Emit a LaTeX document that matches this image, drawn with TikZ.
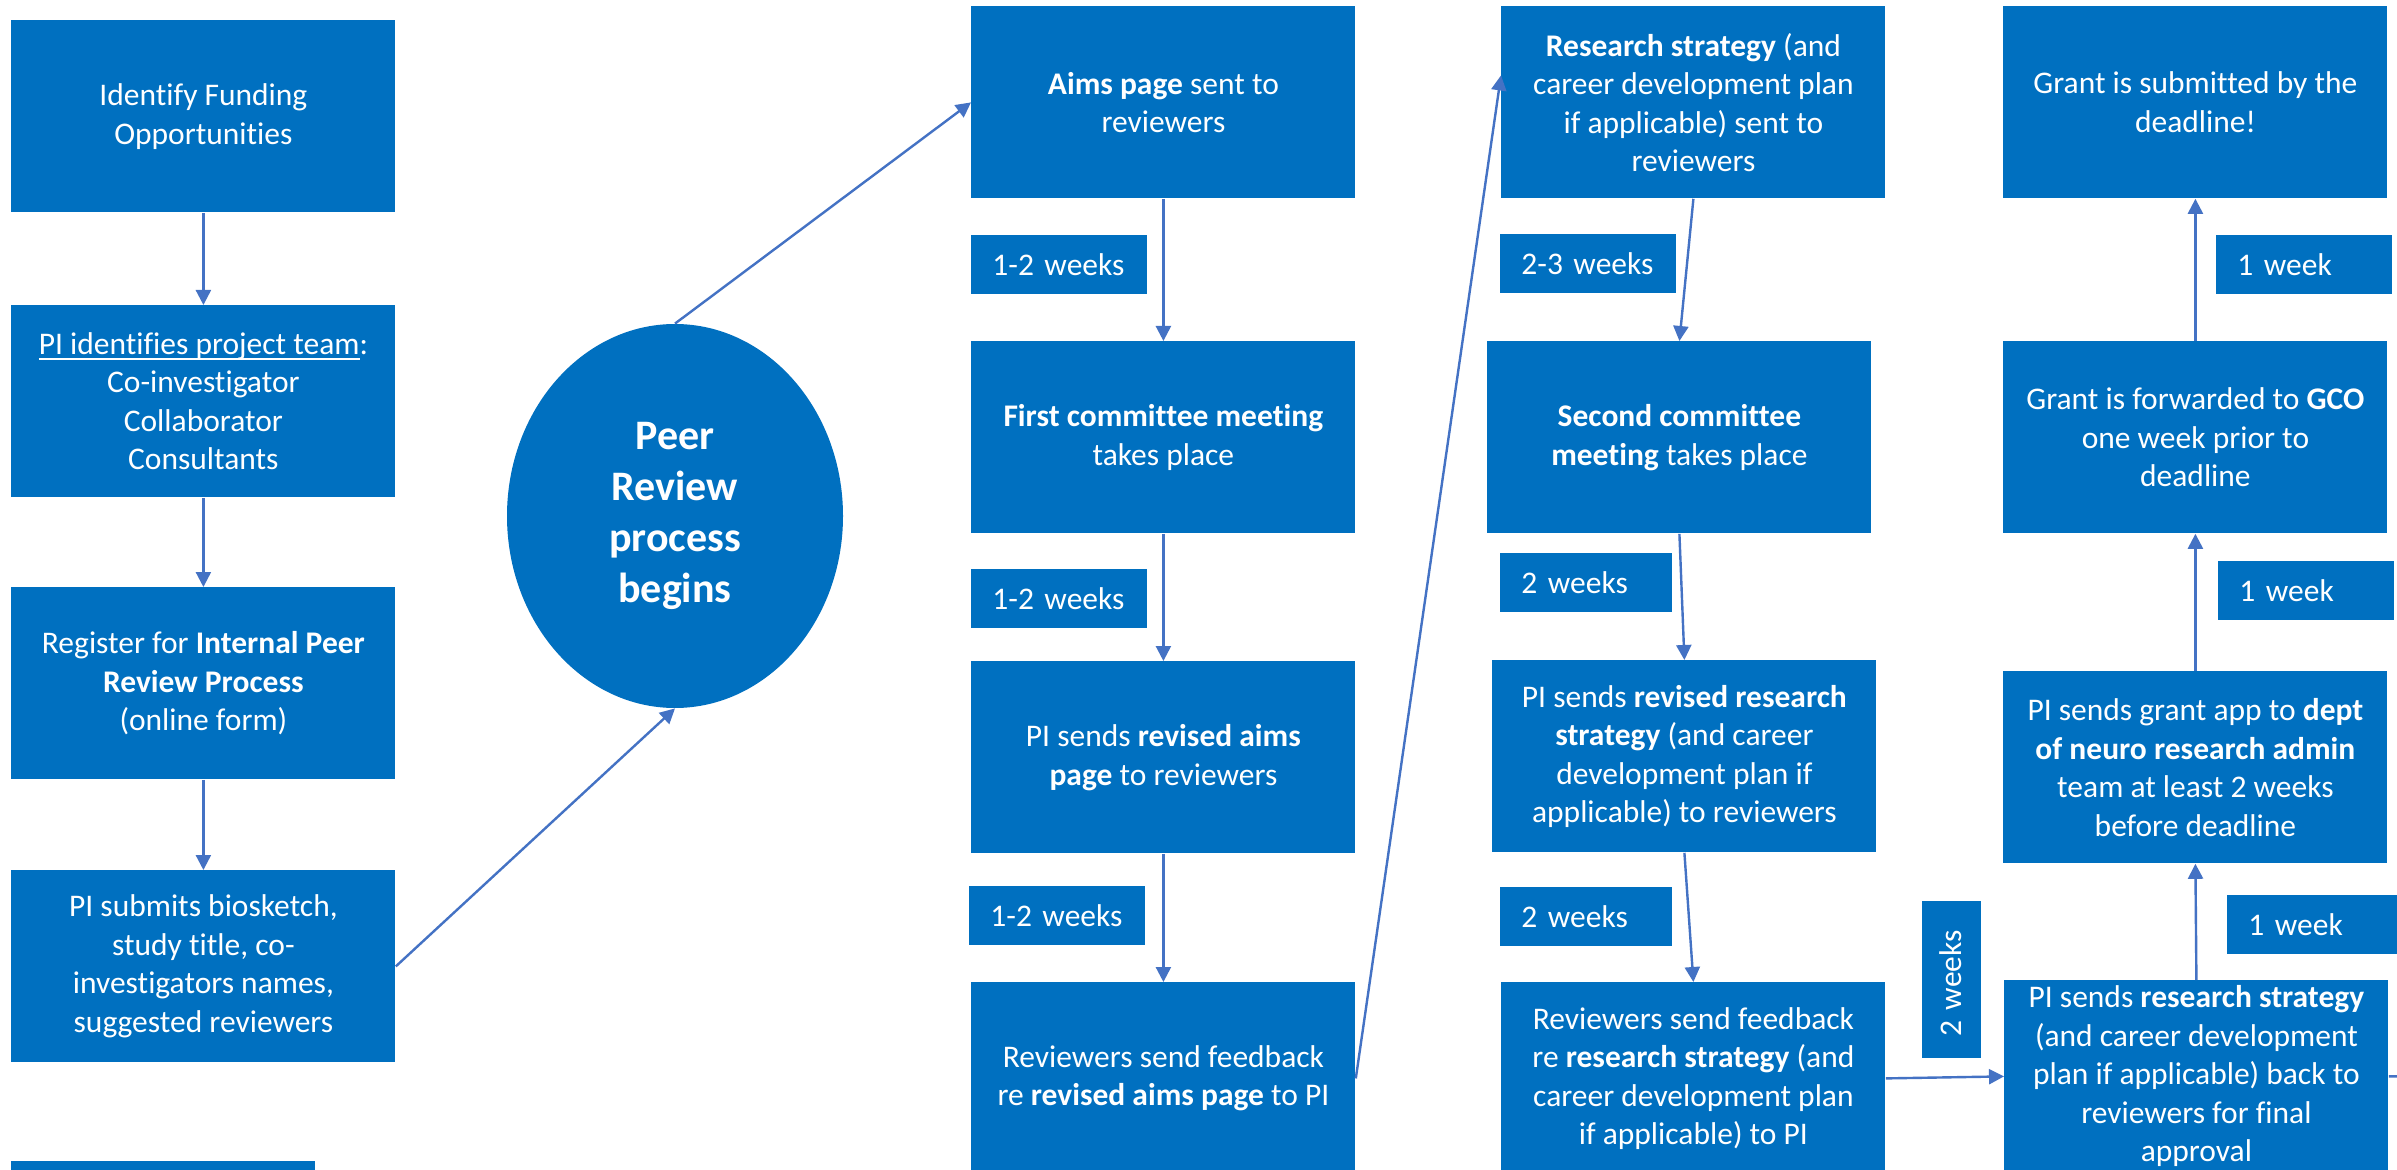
\documentclass[tikz,border=0pt]{standalone}
\usepackage{fontspec}
\setmainfont{Carlito}[Ligatures={NoCommon}]
\usetikzlibrary{arrows.meta,calc,shapes.geometric}
\definecolor{boxblue}{HTML}{0070C0}
\definecolor{arrblue}{HTML}{4472C4}
\newlength\myulw
\newcommand\myul[1]{\settowidth{\myulw}{#1}\rlap{#1}\rule[-2.6pt]{\myulw}{0.7pt}}
\begin{document}
\begin{tikzpicture}[x=0.5pt,y=-0.5pt,
  box/.style={fill=boxblue, text=white, align=center, inner sep=0pt, anchor=north west,
    minimum width=192pt, minimum height=96pt, font=\fontsize{15.75}{19.25}\selectfont},
  lbl/.style={fill=boxblue, text=white, align=left, inner xsep=10.5pt, inner ysep=0pt,
    anchor=north west, minimum height=29.5pt, text width=#1, font=\fontsize{15.75}{19.25}\selectfont},
  lbl/.default=67pt,
  conn/.style={draw=arrblue, line width=1.2pt},
  arr/.style={conn, -{Triangle[width=7.5pt,length=7.5pt]}},
  ]
\useasboundingbox (0,0) rectangle (2397,1170);
\clip (0,0) rectangle (2397,1170);
\fill[white] (0,0) rectangle (2397,1170);

% column 1
\node[box] (A) at (11,20) {Identify Funding\\Opportunities};
\node[box] (B) at (11,305) {\myul{PI identifies project team}:\\Co-investigator\\Collaborator\\Consultants};
\node[box] (C) at (11,587) {Register for \textbf{Internal Peer}\\\textbf{Review Process}\\(online form)};
\node[box] (D) at (11,870) {PI submits biosketch,\\study title, co-\\investigators names,\\suggested reviewers};
\node[box, minimum width=152pt] (E) at (11,1161) {};

% ellipse
\node[ellipse, fill=boxblue, minimum width=168pt, minimum height=192pt, inner sep=0pt,
  text=white, align=center, font=\bfseries\fontsize{21}{25.5}\selectfont] (P) at (675,516)
  {Peer\\Review\\process\\begins};

% column 2
\node[box] (aims) at (971,6) {\textbf{Aims page} sent to\\reviewers};
\node[lbl] (w1) at (971,235) {1-2 weeks};
\node[box] (first) at (971,341) {\textbf{First committee meeting}\\takes place};
\node[lbl] (w2) at (971,569) {1-2 weeks};
\node[box] (revaims) at (971,661) {PI sends \textbf{revised aims}\\\textbf{page} to reviewers};
\node[lbl] (w3) at (969,886) {1-2 weeks};
\node[box] (fb1) at (971,982) {Reviewers send feedback\\re \textbf{revised aims page} to PI};

% column 3
\node[box] (rs) at (1501,6) {\textbf{Research strategy} (and\\career development plan\\if applicable) sent to\\reviewers};
\node[lbl] (w4) at (1500,234) {2-3 weeks};
\node[box] (second) at (1487,341) {\textbf{Second committee}\\\textbf{meeting} takes place};
\node[lbl=65pt] (w5) at (1500,553) {2 weeks};
\node[box] (revrs) at (1492,660) {PI sends \textbf{revised research}\\\textbf{strategy} (and career\\development plan if\\applicable) to reviewers};
\node[lbl=65pt] (w6) at (1500,887) {2 weeks};
\node[box] (fb2) at (1501,982) {Reviewers send feedback\\re \textbf{research strategy} (and\\career development plan\\if applicable) to PI};

% column 4
\node[box] (sub) at (2003,6) {Grant is submitted by the\\deadline!};
\node[lbl] (w7) at (2216,235) {1 week};
\node[box] (fwd) at (2003,341) {Grant is forwarded to \textbf{GCO}\\one week prior to\\deadline};
\node[lbl] (w8) at (2218,561) {1 week};
\node[box] (app) at (2003,671) {PI sends grant app to \textbf{dept}\\\textbf{of neuro research admin}\\team at least 2 weeks\\before deadline};
\node[lbl] (w9) at (2227,895) {1 week};
\node[box] (final) at (2004,980) {PI sends \textbf{research strategy}\\(and career development\\plan if applicable) back to\\reviewers for final\\approval};
\node[lbl=57.5pt, rotate=90, anchor=south west] (w10) at (1981,1058) {2 weeks};

% connectors
\draw[arr] (A) -- (B);
\draw[arr] (B) -- (C);
\draw[arr] (C) -- (D);
\draw[arr] (D.east) -- (P.south);
\draw[arr] (P.north) -- (aims.west);
\draw[arr] (aims) -- (first);
\draw[arr] (first) -- (revaims);
\draw[arr] (revaims) -- (fb1);
\draw[arr] (fb1.east) -- ($(rs.north west)!0.36!(rs.south west)$);
\draw[arr] (rs.south) -- (second.north);
\draw[arr] (second.south) -- (revrs.north);
\draw[arr] (revrs.south) -- (fb2.north);
\draw[arr] (fb2.east) -- (final.west);
\draw[arr] (final.north) -- (app.south);
\draw[arr] (app.north) -- (fwd.south);
\draw[arr] (fwd.north) -- (sub.south);
\coordinate (exitR) at (2420,1076);
\draw[conn] (final.east) -- (exitR);
\end{tikzpicture}
\end{document}
